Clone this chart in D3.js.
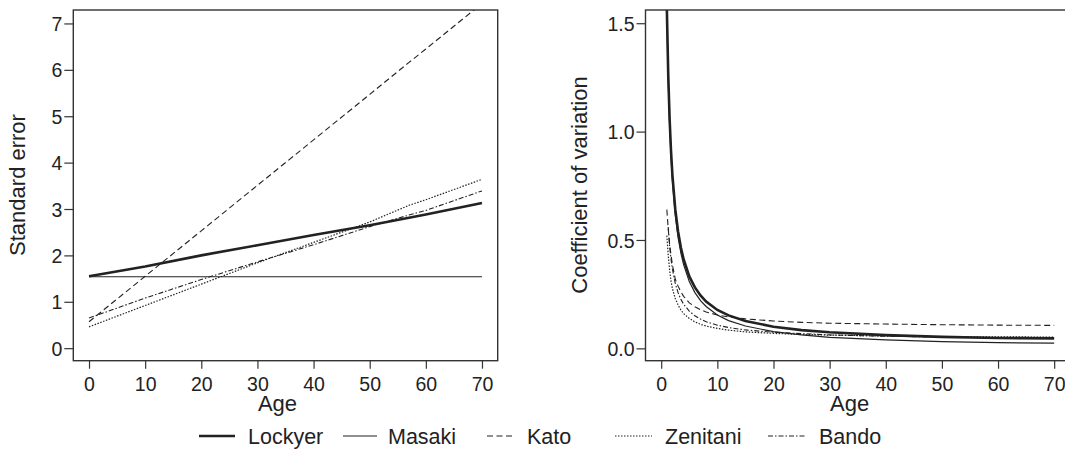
<!DOCTYPE html>
<html>
<head>
<meta charset="utf-8">
<script src="https://d3js.org/d3.v7.min.js"></script>
<style>
  body { margin: 0; background: #fff; }
  svg { font-family: "Liberation Sans", Arial, sans-serif; }
  .tick text { font-size: 19.5px; fill: #222; }
  .tick line { stroke: #333; stroke-width: 1.2; }
</style>
</head>
<body>
<svg width="1065" height="451"></svg>
<script>
// ---- data ----
var seriesNames = ["Lockyer", "Masaki", "Kato", "Zenitani", "Bando"];

// left panel: standard error by age
var seAges     = [0, 10, 20, 30, 40, 50, 57, 60, 70];
var seLockyer  = [1.55, 1.76, 2.00, 2.22, 2.44, 2.65, 2.81, 2.88, 3.13];
var seMasaki   = [1.54, 1.54, 1.54, 1.54, 1.54, 1.54, 1.54, 1.54, 1.54];
var seKato     = [0.57, 1.55, 2.53, 3.51, 4.49, 5.47, 6.16, 6.45, 7.43];
var seZenitani = [0.46, 0.92, 1.38, 1.84, 2.28, 2.72, 3.08, 3.20, 3.64];
var seBando    = [0.65, 1.08, 1.48, 1.86, 2.23, 2.62, 2.87, 2.97, 3.39];

// right panel: coefficient of variation by age
var cvAges     = [1, 1.25, 1.5, 1.75, 2, 2.5, 3, 3.5, 4, 5, 6, 7, 8, 10, 12, 15, 20, 25, 30, 40, 50, 60, 70];
var cvLockyer  = [1.57, 1.262, 1.056, 0.908, 0.797, 0.642, 0.539, 0.465, 0.410, 0.332, 0.281, 0.244, 0.216, 0.177, 0.152, 0.126, 0.100, 0.084, 0.074, 0.061, 0.053, 0.048, 0.046];
var cvMasaki   = [1.54, 1.232, 1.027, 0.880, 0.770, 0.616, 0.513, 0.440, 0.385, 0.308, 0.257, 0.220, 0.193, 0.154, 0.128, 0.103, 0.077, 0.062, 0.051, 0.039, 0.031, 0.026, 0.024];
var cvKato     = [0.64, 0.55, 0.48, 0.43, 0.385, 0.32, 0.287, 0.26, 0.24, 0.21, 0.192, 0.178, 0.168, 0.154, 0.145, 0.136, 0.126, 0.120, 0.116, 0.112, 0.109, 0.107, 0.106];
var cvZenitani = [0.52, 0.43, 0.36, 0.31, 0.275, 0.23, 0.20, 0.177, 0.16, 0.138, 0.122, 0.111, 0.103, 0.092, 0.084, 0.076, 0.069, 0.064, 0.061, 0.057, 0.054, 0.053, 0.052];
var cvBando    = [null, 0.56, 0.47, 0.41, 0.365, 0.30, 0.257, 0.226, 0.203, 0.172, 0.150, 0.135, 0.123, 0.107, 0.096, 0.085, 0.074, 0.068, 0.062, 0.056, 0.052, 0.050, 0.048];

var ageTicks = [0, 10, 20, 30, 40, 50, 60, 70];
var seTicks  = [0, 1, 2, 3, 4, 5, 6, 7];
var cvTicks  = [0, 0.5, 1.0, 1.5];

// ---- styles per series ----
var styles = {
  Lockyer:  { width: 2.6, dash: null },
  Masaki:   { width: 1.2, dash: null },
  Kato:     { width: 1.1, dash: "6,3.5" },
  Zenitani: { width: 1.2, dash: "1.5,1.5" },
  Bando:    { width: 1.1, dash: "5,2,1.5,2" }
};

var svg = d3.select("svg");

function panel(id, xr, xDomain, yDomain, yTicks, fmt, ages, values, ylab, ylabX) {
  var x = d3.scaleLinear().domain(xDomain).range(xr);
  var y = d3.scaleLinear().domain(yDomain).range([360.7, 10]);

  svg.append("clipPath").attr("id", id)
    .append("rect").attr("x", xr[0]).attr("y", 10)
    .attr("width", xr[1] - xr[0]).attr("height", 350.7);

  var g = svg.append("g").attr("clip-path", "url(#" + id + ")");
  var line = d3.line()
    .defined(function(d) { return d[1] != null; })
    .x(function(d) { return x(d[0]); })
    .y(function(d) { return y(d[1]); });

  seriesNames.forEach(function(name, i) {
    var pts = ages.map(function(a, j) { return [a, values[i][j]]; });
    g.append("path")
      .attr("d", line(pts))
      .attr("fill", "none")
      .attr("stroke", "#222")
      .attr("stroke-width", styles[name].width)
      .attr("stroke-dasharray", styles[name].dash);
  });

  svg.append("rect")
    .attr("x", xr[0]).attr("y", 10)
    .attr("width", xr[1] - xr[0]).attr("height", 350.7)
    .attr("fill", "none").attr("stroke", "#333").attr("stroke-width", 1.4);

  var ax = svg.append("g").attr("transform", "translate(0,360.7)")
    .call(d3.axisBottom(x).tickValues(ageTicks).tickSize(8).tickPadding(8).tickSizeOuter(0));
  ax.select(".domain").remove();

  var ay = svg.append("g").attr("transform", "translate(" + xr[0] + ",0)")
    .call(d3.axisLeft(y).tickValues(yTicks).tickFormat(fmt).tickSize(9).tickPadding(2).tickSizeOuter(0));
  ay.select(".domain").remove();
  ay.selectAll(".tick text").attr("dy", "0.36em");

  svg.append("text")
    .attr("x", (x(0) + x(70)) / 2 - 8)
    .attr("y", 411)
    .attr("text-anchor", "middle")
    .attr("font-size", 22).attr("fill", "#222")
    .text("Age");

  svg.append("text")
    .attr("transform", "translate(" + ylabX + ",185) rotate(-90)")
    .attr("text-anchor", "middle")
    .attr("font-size", 22).attr("fill", "#222")
    .text(ylab);
}

panel("clipL", [73.3, 497.7], [-2.8, 72.8], [-0.27, 7.29], seTicks, d3.format("d"),
  seAges, [seLockyer, seMasaki, seKato, seZenitani, seBando], "Standard error", 25);

panel("clipR", [645.5, 1069.9], [-2.8, 72.8], [-0.057, 1.561], cvTicks, d3.format(".1f"),
  cvAges, [cvLockyer, cvMasaki, cvKato, cvZenitani, cvBando], "Coefficient of variation", 587);

// ---- legend ----
var legendX0 = [199, 343, 487, 615, 768];
var legendX1 = [235, 377, 515, 652, 805];
var legendTx = [248, 388, 527, 665, 819];
var leg = svg.append("g");
seriesNames.forEach(function(name, i) {
  leg.append("line")
    .attr("x1", legendX0[i]).attr("x2", legendX1[i])
    .attr("y1", 436).attr("y2", 436)
    .attr("stroke", "#222")
    .attr("stroke-width", styles[name].width)
    .attr("stroke-dasharray", styles[name].dash);
  leg.append("text")
    .attr("x", legendTx[i]).attr("y", 444)
    .attr("font-size", 21.5).attr("fill", "#222")
    .text(name);
});
</script>
</body>
</html>
